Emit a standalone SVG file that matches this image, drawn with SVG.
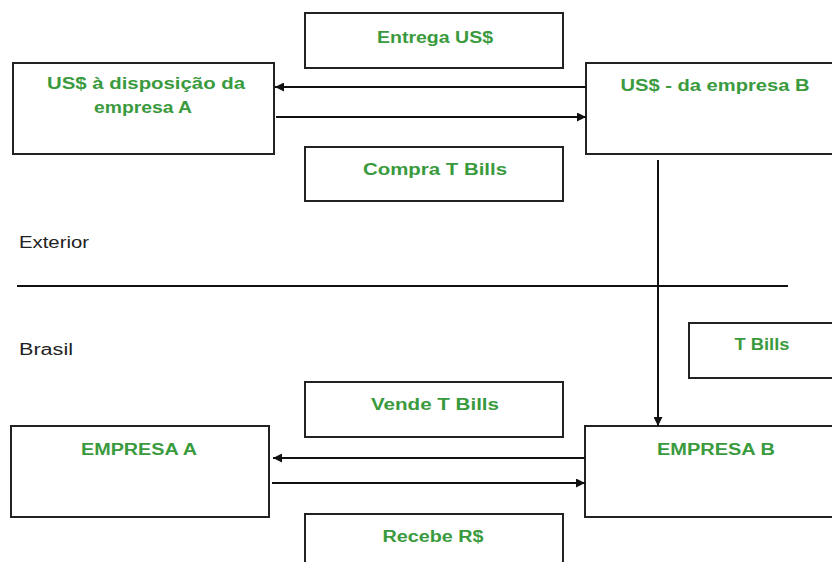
<svg xmlns="http://www.w3.org/2000/svg" width="832" height="562" viewBox="0 0 832 562">
<defs>
<style>
.box{fill:#fff;stroke:#222;stroke-width:2}
.lbl{font-family:"Liberation Sans",Arial,sans-serif;font-weight:bold;font-size:16px;fill:#3a9a3e;text-anchor:middle}
.side{font-family:"Liberation Sans",Arial,sans-serif;font-size:16px;fill:#222}
.con{stroke:#111;stroke-width:2;fill:none}
</style>
<marker id="ah" viewBox="0 0 10 10" refX="10" refY="5" markerWidth="11" markerHeight="9" markerUnits="userSpaceOnUse" orient="auto">
<path d="M0,0 L10,5 L0,10 z" fill="#111"/>
</marker>
</defs>
<rect width="832" height="562" fill="#fff"/>
<g id="entrega"><rect class="box" x="305" y="13" width="258" height="55"/><text class="lbl" x="435" y="43" textLength="116" lengthAdjust="spacingAndGlyphs">Entrega US$</text></g>
<g id="usA"><rect class="box" x="13" y="63" width="261" height="91"/><text class="lbl" x="146" y="89" textLength="198" lengthAdjust="spacingAndGlyphs">US$ à disposição da</text><text class="lbl" x="143" y="113" textLength="98" lengthAdjust="spacingAndGlyphs">empresa A</text></g>
<g id="usB"><rect class="box" x="586" y="63" width="250" height="91"/><text class="lbl" x="715" y="91" textLength="189" lengthAdjust="spacingAndGlyphs">US$ - da empresa B</text></g>
<g id="compra"><rect class="box" x="305" y="147" width="258" height="54"/><text class="lbl" x="435" y="175" textLength="144" lengthAdjust="spacingAndGlyphs">Compra T Bills</text></g>
<g id="exterior"><text class="side" x="19" y="248" textLength="70" lengthAdjust="spacingAndGlyphs">Exterior</text></g>
<g id="brasil"><text class="side" x="19" y="355" textLength="54" lengthAdjust="spacingAndGlyphs">Brasil</text></g>
<g id="tbills"><rect class="box" x="689" y="323" width="147" height="55"/><text class="lbl" x="762" y="350" textLength="55" lengthAdjust="spacingAndGlyphs">T Bills</text></g>
<g id="vende"><rect class="box" x="305" y="382" width="258" height="55"/><text class="lbl" x="435" y="410" textLength="128" lengthAdjust="spacingAndGlyphs">Vende T Bills</text></g>
<g id="empresaA"><rect class="box" x="11" y="426" width="258" height="91"/><text class="lbl" x="139" y="455" textLength="116" lengthAdjust="spacingAndGlyphs">EMPRESA A</text></g>
<g id="empresaB"><rect class="box" x="585" y="426" width="251" height="91"/><text class="lbl" x="716" y="455" textLength="118" lengthAdjust="spacingAndGlyphs">EMPRESA B</text></g>
<g id="recebe"><rect class="box" x="305" y="514" width="258" height="60"/><text class="lbl" x="433" y="542" textLength="101" lengthAdjust="spacingAndGlyphs">Recebe R$</text></g>
<g id="connectors">
<line class="con" x1="17" y1="286" x2="788" y2="286"/>
<line class="con" x1="586" y1="87" x2="275" y2="87" marker-end="url(#ah)"/>
<line class="con" x1="276" y1="117" x2="586" y2="117" marker-end="url(#ah)"/>
<line class="con" x1="658" y1="160" x2="658" y2="426" marker-end="url(#ah)"/>
<line class="con" x1="585" y1="458" x2="273" y2="458" marker-end="url(#ah)"/>
<line class="con" x1="272" y1="483" x2="585" y2="483" marker-end="url(#ah)"/>
</g>
</svg>
